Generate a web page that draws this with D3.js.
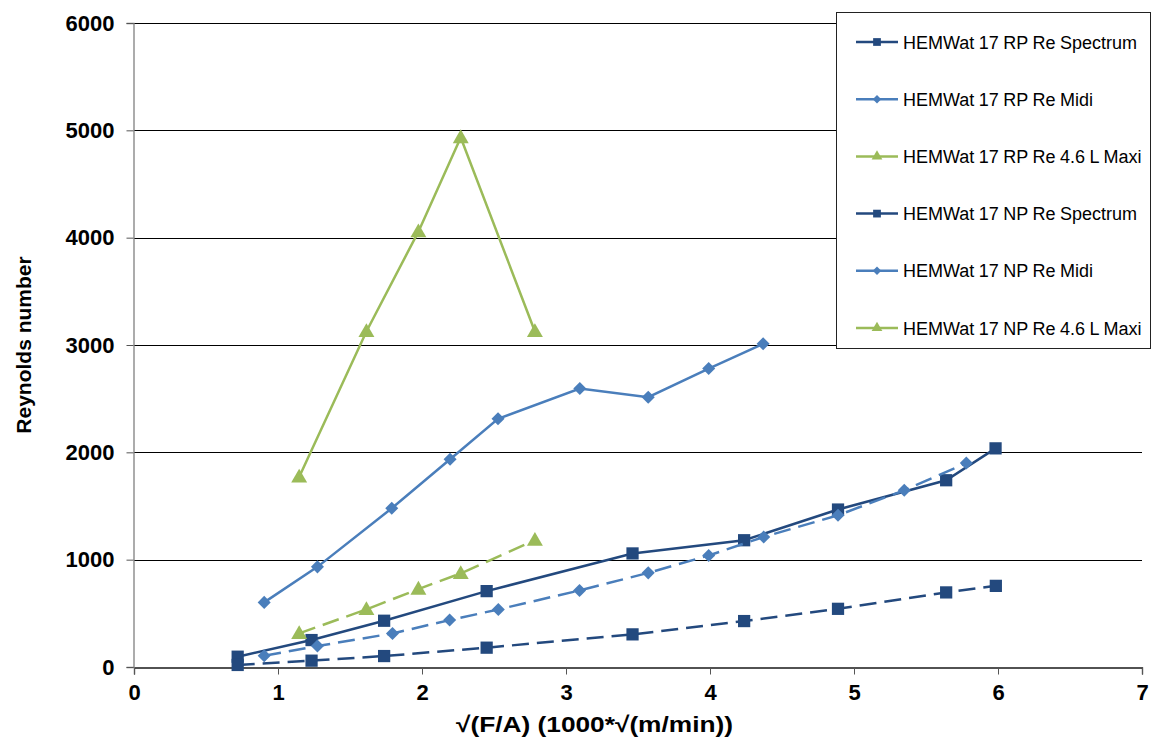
<!DOCTYPE html>
<html><head><meta charset="utf-8">
<script src="https://cdn.jsdelivr.net/npm/d3@7"></script>
<style>
body{margin:0;background:#fff;}
svg{display:block;font-family:"Liberation Sans",Arial,sans-serif;}
</style></head>
<body><svg id="c" width="1152" height="740"></svg>
<script>
const xTicks=[0,1,2,3,4,5,6,7];
const yTicks=[0,1000,2000,3000,4000,5000,6000];
const seriesNames=["HEMWat 17 RP Re Spectrum","HEMWat 17 RP Re Midi","HEMWat 17 RP Re 4.6 L Maxi","HEMWat 17 NP Re Spectrum","HEMWat 17 NP Re Midi","HEMWat 17 NP Re 4.6 L Maxi"];
const rpSpectrumX=[0.72,1.233,1.737,2.449,3.462,4.237,4.889,5.64,5.983];
const rpSpectrumY=[96,251,431,707,1058,1181,1467,1740,2037];
const rpMidiX=[0.904,1.274,1.79,2.195,2.528,3.096,3.571,3.991,4.369];
const rpMidiY=[602,933,1479,1935,2313,2595,2514,2781,3011];
const rpMaxiX=[1.147,1.614,1.975,2.269,2.784];
const rpMaxiY=[1770,3126,4056,4933,3126];
const npSpectrumX=[0.72,1.233,1.737,2.449,3.462,4.237,4.889,5.64,5.985];
const npSpectrumY=[19,59,102,180,304,428,542,695,756];
const npMidiX=[0.904,1.274,1.795,2.192,2.53,3.094,3.571,3.991,4.373,4.889,5.349,5.78];
const npMidiY=[105,195,313,437,536,713,877,1039,1212,1414,1647,1900];
const npMaxiX=[1.147,1.614,1.975,2.269,2.784];
const npMaxiY=[313,537,726,872,1181];

const cDark="#23497e", cMid="#4a7ebb", cGreen="#9bbb59";
const series=[
 {name:seriesNames[0],xs:rpSpectrumX,ys:rpSpectrumY,color:cDark,sym:"square",dash:null},
 {name:seriesNames[1],xs:rpMidiX,ys:rpMidiY,color:cMid,sym:"diamond",dash:null},
 {name:seriesNames[2],xs:rpMaxiX,ys:rpMaxiY,color:cGreen,sym:"triangle",dash:null},
 {name:seriesNames[3],xs:npSpectrumX,ys:npSpectrumY,color:cDark,sym:"square",dash:"17,8"},
 {name:seriesNames[4],xs:npMidiX,ys:npMidiY,color:cMid,sym:"diamond",dash:"17,8"},
 {name:seriesNames[5],xs:npMaxiX,ys:npMaxiY,color:cGreen,sym:"triangle",dash:"17,8"}
];

const L=134,R=1142,T=23,B=667;
const svg=d3.select("#c");
const x=d3.scaleLinear().domain([0,7]).range([L,R]);
const y=d3.scaleLinear().domain([0,6000]).range([B,T]);

// gridlines
svg.append("g").selectAll("line").data(yTicks.filter(d=>d>0)).join("line")
 .attr("x1",L).attr("x2",R).attr("y1",d=>Math.round(y(d))+0.5).attr("y2",d=>Math.round(y(d))+0.5)
 .attr("stroke","#000").attr("stroke-width",1.2);

// axes
const gx=svg.append("g").attr("transform",`translate(0,${B+0.5})`)
 .call(d3.axisBottom(x).tickValues(xTicks).tickSize(7).tickPadding(10).tickFormat(d3.format("d")));
const gy=svg.append("g").attr("transform",`translate(${L-0.5},0)`)
 .call(d3.axisLeft(y).tickValues(yTicks).tickSize(7).tickPadding(12).tickFormat(d=>String(d)));
gx.select(".domain").attr("stroke","#1a1a1a").attr("stroke-width",1.3);
gy.select(".domain").attr("stroke","#808080").attr("stroke-width",1.3);
gx.selectAll(".tick line").attr("stroke","#555");
gy.selectAll(".tick line").attr("stroke","#555");
[gx,gy].forEach(g=>g.selectAll("text").attr("font-family","Liberation Sans, Arial, sans-serif")
 .attr("font-size",22).attr("font-weight","bold").attr("fill","#000"));

// axis titles
svg.append("text").attr("x",456).attr("y",732)
 .attr("font-size",22).attr("font-weight","bold")
 .attr("textLength",277).attr("lengthAdjust","spacingAndGlyphs")
 .text("√(F/A) (1000*√(m/min))");
svg.append("text").attr("transform",`translate(31,${(T+B)/2}) rotate(-90)`).attr("text-anchor","middle")
 .attr("font-size",21).attr("font-weight","bold").text("Reynolds number");

function symPath(sym,size){
 if(sym==="triangle") return d3.symbol(d3.symbolTriangle,size)();
 return d3.symbol(d3.symbolSquare,size)();
}
const line=d3.line().x(d=>x(d[0])).y(d=>y(d[1]));

series.forEach(s=>{
 const pts=s.xs.map((v,i)=>[v,s.ys[i]]);
 const g=svg.append("g");
 g.append("path").attr("d",line(pts)).attr("fill","none").attr("stroke",s.color)
  .attr("stroke-width",2.5).attr("stroke-dasharray",s.dash);
 const sz = s.sym==="square"?150:(s.sym==="diamond"?85:110);
 g.selectAll("path.m").data(pts).join("path").attr("class","m")
  .attr("d",symPath(s.sym,sz))
  .attr("transform",d=>`translate(${x(d[0])},${y(d[1])})`+(s.sym==="diamond"?" rotate(45)":"")+(s.sym==="triangle"?" translate(0,1)":""))
  .attr("fill",s.color).attr("stroke","none");
});

// legend
const lg=svg.append("g");
lg.append("rect").attr("x",836.5).attr("y",12.5).attr("width",314).attr("height",336)
 .attr("fill","#fff").attr("stroke","#222").attr("stroke-width",1);
series.forEach((s,i)=>{
 const cy=42+i*57.2;
 lg.append("line").attr("x1",856).attr("x2",898).attr("y1",cy).attr("y2",cy).attr("stroke",s.color).attr("stroke-width",2.5);
 const sz = s.sym==="square"?60:(s.sym==="diamond"?36:50);
 lg.append("path").attr("d",symPath(s.sym,sz))
  .attr("transform",`translate(877,${cy})`+(s.sym==="diamond"?" rotate(45)":""))
  .attr("fill",s.color);
 lg.append("text").attr("x",903).attr("y",cy+6.5).attr("font-size",18).attr("fill","#000")
  .attr("word-spacing","-0.5").text(s.name);
});
</script></body></html>
